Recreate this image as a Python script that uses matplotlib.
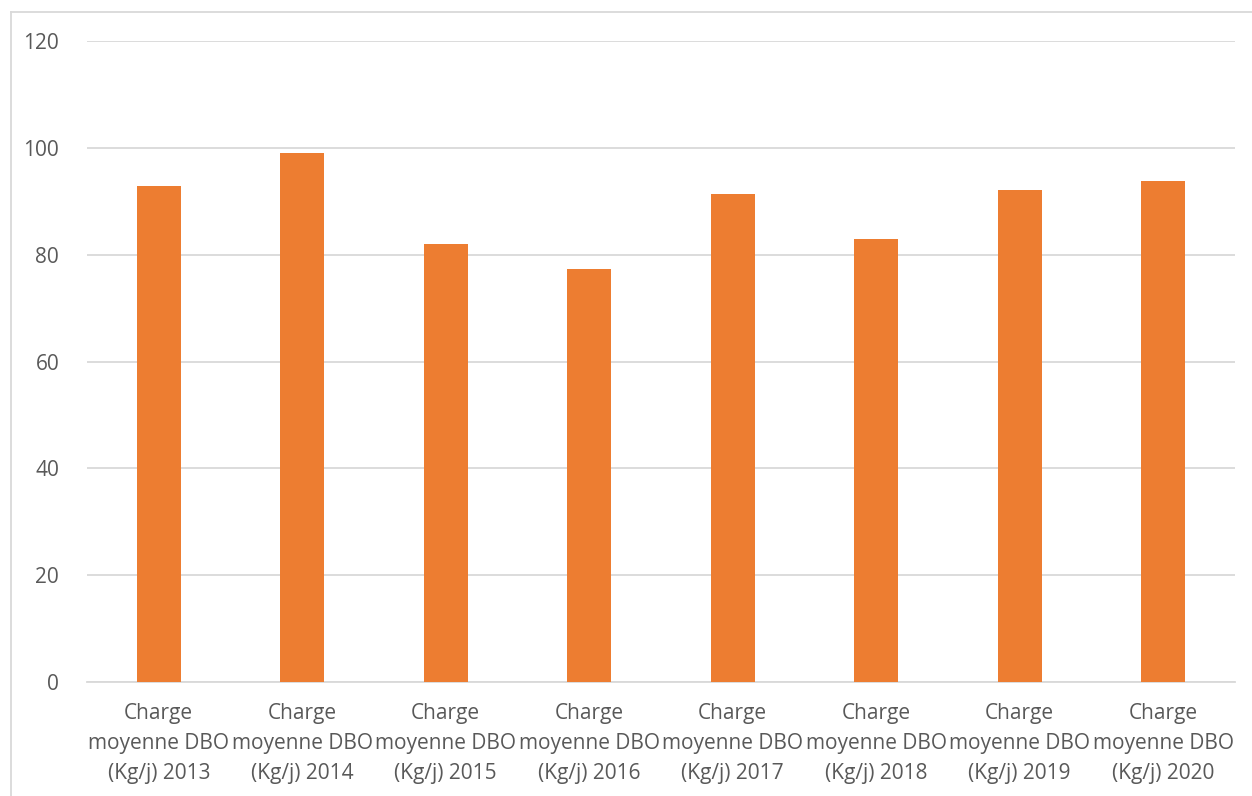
import matplotlib
matplotlib.use("Agg")
import matplotlib.pyplot as plt
from matplotlib.lines import Line2D

categories = ["Charge\nmoyenne DBO\n(Kg/j) 2013", "Charge\nmoyenne DBO\n(Kg/j) 2014",
              "Charge\nmoyenne DBO\n(Kg/j) 2015", "Charge\nmoyenne DBO\n(Kg/j) 2016",
              "Charge\nmoyenne DBO\n(Kg/j) 2017", "Charge\nmoyenne DBO\n(Kg/j) 2018",
              "Charge\nmoyenne DBO\n(Kg/j) 2019", "Charge\nmoyenne DBO\n(Kg/j) 2020"]
values = [92.8, 99.0, 82.0, 77.4, 91.4, 83.0, 92.1, 93.8]
yticks = [0, 20, 40, 60, 80, 100, 120]

plt.rcParams['font.family'] = ['Open Sans', 'DejaVu Sans']

fig = plt.figure(figsize=(12.52, 7.96), dpi=100)
ax = fig.add_axes([87/1252, 1 - 682/796, (1235 - 87)/1252, (682 - 41)/796])

x = list(range(len(categories)))
ax.bar(x, values, width=0.31, color="#ED7D31", zorder=3)
ax.set_xlim(-0.5, len(categories) - 0.5)
ax.set_ylim(0, 120)
ax.set_yticks(yticks)
ax.set_xticks(x)
ax.set_xticklabels(categories, fontsize=15, color="#595959", linespacing=1.58)
ax.tick_params(axis='y', labelsize=15, labelcolor="#595959", length=0, pad=20)
ax.tick_params(axis='x', length=0, pad=15)
ax.grid(axis='y', color="#D9D9D9", linewidth=1.3, zorder=0)
for s in ['top', 'right', 'left']:
    ax.spines[s].set_visible(False)
ax.spines['bottom'].set_color("#D9D9D9")
ax.spines['bottom'].set_linewidth(1.3)

# outer chart border (left and top)
fig.add_artist(Line2D([11/1252, 11/1252], [0, 1 - 12/796], transform=fig.transFigure,
                      color="#D9D9D9", linewidth=1.3))
fig.add_artist(Line2D([11/1252, 1], [1 - 12/796, 1 - 12/796], transform=fig.transFigure,
                      color="#D9D9D9", linewidth=1.3))

fig.savefig("out.png", dpi=100, facecolor="white")
